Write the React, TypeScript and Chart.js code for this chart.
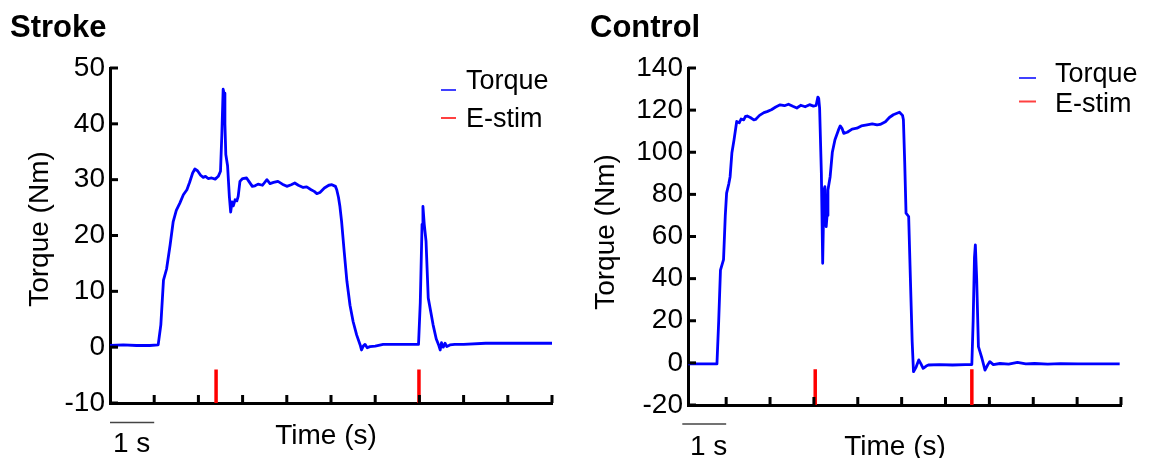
import React, { useEffect, useRef } from 'react';
import { Chart, registerables } from 'chart.js';

Chart.register(...registerables);

const FONT = '"Liberation Sans", Arial, Helvetica, sans-serif';

// ---------------- Data: Stroke ----------------
const strokeTime = [0.00,0.30,0.60,0.90,1.09,1.15,1.21,1.28,1.36,1.43,
  1.50,1.58,1.66,1.74,1.80,1.87,1.92,1.98,2.05,2.11,
  2.16,2.22,2.30,2.38,2.45,2.50,2.53,2.56,2.58,2.60,
  2.62,2.66,2.70,2.73,2.76,2.79,2.83,2.87,2.90,2.94,
  3.00,3.09,3.15,3.22,3.28,3.35,3.45,3.55,3.62,3.70,
  3.80,3.90,4.00,4.10,4.18,4.26,4.37,4.45,4.55,4.62,
  4.68,4.75,4.85,4.95,5.02,5.10,5.13,5.17,5.20,5.24,
  5.30,5.36,5.43,5.50,5.58,5.66,5.69,5.73,5.77,5.82,
  5.88,6.00,6.18,6.40,6.60,6.80,6.98,7.02,7.06,7.08,
  7.11,7.15,7.20,7.26,7.31,7.38,7.44,7.47,7.50,7.54,
  7.58,7.62,7.69,7.80,8.00,8.50,9.00,9.50,10.00];
const strokeTorque = [0.3,0.4,0.3,0.3,0.4,4.0,12.0,14.0,18.3,22.5,
  24.5,25.8,27.3,28.2,29.5,31.2,31.9,31.6,30.8,30.4,
  30.6,30.2,30.3,30.1,30.6,31.5,38.0,46.2,45.5,40.0,
  34.5,32.5,27.0,24.2,26.0,25.3,26.4,26.2,27.0,29.7,
  30.2,30.3,29.6,28.8,28.9,29.2,29.0,30.0,29.3,29.5,
  29.7,29.2,28.8,29.1,29.4,29.0,28.6,28.7,28.2,27.9,
  27.5,27.7,28.5,29.0,29.1,28.8,28.2,26.8,25.3,22.5,
  17.0,11.8,7.5,4.6,2.2,0.4,-0.5,0.2,0.5,-0.1,
  0.1,0.2,0.5,0.5,0.5,0.5,0.5,8.0,22.0,25.2,
  22.0,19.0,8.8,6.2,4.0,1.5,0.3,-0.5,0.8,0.0,
  0.7,0.1,0.4,0.5,0.5,0.7,0.7,0.7,0.7];
const strokeStimTimes = [2.40, 6.99];
const strokeStimRange = [-10, -4];
const strokeYTicks = [-10, 0, 10, 20, 30, 40, 50];
const strokeXRange = [0, 10];

// ---------------- Data: Control ----------------
const controlTime = [0.13,0.43,0.79,0.83,0.87,0.94,0.98,1.01,1.06,1.09,
  1.13,1.18,1.24,1.30,1.34,1.40,1.44,1.48,1.55,1.63,
  1.67,1.76,1.86,1.93,2.03,2.13,2.23,2.33,2.42,2.52,
  2.61,2.70,2.80,2.90,2.99,3.05,3.09,3.11,3.13,3.17,
  3.20,3.23,3.25,3.28,3.30,3.32,3.37,3.42,3.48,3.56,
  3.60,3.64,3.68,3.76,3.87,3.98,4.08,4.21,4.33,4.44,
  4.51,4.63,4.72,4.81,4.95,5.02,5.04,5.07,5.10,5.16,
  5.20,5.24,5.27,5.33,5.39,5.44,5.49,5.56,5.61,5.86,
  6.16,6.45,6.60,6.63,6.66,6.68,6.71,6.75,6.79,6.83,
  6.90,6.96,7.01,7.09,7.24,7.44,7.64,7.83,8.03,8.33,
  8.62,9.02,9.51,9.97];
const controlTorque = [-0.5,-0.5,-0.5,20,44,49,70,80.6,85,88.4,
  99.6,106,114.6,114,115.8,115.4,117,117.2,116.5,115.4,
  115.6,117.5,118.8,119.3,120.2,121.5,122.5,122.1,122.8,121.8,
  121.0,122.3,121.6,122.6,121.9,122.2,126.2,125.5,121,90,
  47.3,82.1,83.7,64.7,70,82.1,88.4,100,105.9,110.6,
  112.5,111.4,109,109.5,111,111.4,112.5,113,113.5,113,
  113.2,114.5,116.5,117.8,119,117.5,115.4,95,71.1,69.5,
  39.4,10,-4.2,-2,1.4,-0.5,-2.6,-1.5,-1,-0.8,
  -1,-0.8,-0.8,20,50,56,40,7.7,5,2.2,
  -3.4,-1,0.6,-0.8,-0.3,-0.6,0.2,-0.5,-0.3,-0.6,
  -0.4,-0.5,-0.5,-0.5];
const controlStimTimes = [3.03, 6.60];
const controlStimRange = [-20, -3];
const controlYTicks = [-20, 0, 20, 40, 60, 80, 100, 120, 140];
const controlXRange = [0.13, 10];

const xTickValues = [1, 2, 3, 4, 5, 6, 7, 8, 9, 10];
const seriesLabels = ['Torque', 'E-stim'];
const seriesColors = ['#0000ff', '#ff0000'];
const titles = ['Stroke', 'Control'];
const xAxisTitle = 'Time (s)';
const yAxisTitle = 'Torque (Nm)';
const scaleBarLabel = '1 s';

// ---------------- Layout (positions/styles only) ----------------
const panelLayouts = [
  {
    width: 580, areaLeft: 110, areaRight: 552, areaTop: 68, areaBottom: 403,
    titleX: 10, titleY: 37,
    yTitleX: 48, yTitleY: 229,
    xTitleX: 326, xTitleY: 444,
    barY: 422.5, barLabelX: 113, barLabelY: 452,
    legendDash: [441, 456], legendTextX: 466, legendDashY: [90, 118], legendTextY: [89, 126.5],
  },
  {
    width: 571, areaLeft: 108, areaRight: 541, areaTop: 68, areaBottom: 405,
    titleX: 10, titleY: 37,
    yTitleX: 34, yTitleY: 232,
    xTitleX: 315, xTitleY: 455,
    barY: 424, barLabelX: 110, barLabelY: 455,
    legendDash: [439, 456], legendTextX: 475, legendDashY: [78, 101.5], legendTextY: [82, 111.5],
  },
];
const HEIGHT = 458;

const decorPlugin = {
  id: 'decor',
  afterDraw(chart: any, _args: any, opts: any) {
    const L = opts.layout;
    const ctx = chart.ctx as CanvasRenderingContext2D;
    const { left, bottom } = chart.chartArea;
    const xs = chart.scales.x;
    const ys = chart.scales.y;
    ctx.save();
    // inward ticks
    ctx.strokeStyle = '#000';
    ctx.lineWidth = 3;
    ctx.lineCap = 'butt';
    ys.ticks.forEach((t: any) => {
      const py = ys.getPixelForValue(t.value);
      ctx.beginPath();
      ctx.moveTo(left, py);
      ctx.lineTo(left + 8, py);
      ctx.stroke();
    });
    opts.xTicks.forEach((v: number) => {
      const px = xs.getPixelForValue(v);
      ctx.beginPath();
      ctx.moveTo(px, bottom);
      ctx.lineTo(px, bottom - 8);
      ctx.stroke();
    });
    // scale bar
    ctx.strokeStyle = '#444';
    ctx.lineWidth = 1.5;
    ctx.beginPath();
    ctx.moveTo(xs.getPixelForValue(0), L.barY);
    ctx.lineTo(xs.getPixelForValue(1), L.barY);
    ctx.stroke();
    // texts
    ctx.fillStyle = '#000';
    ctx.textBaseline = 'alphabetic';
    ctx.font = `28px ${FONT}`;
    ctx.textAlign = 'left';
    ctx.fillText(opts.barLabel, L.barLabelX, L.barLabelY);
    ctx.textAlign = 'center';
    ctx.fillText(opts.xTitle, L.xTitleX, L.xTitleY);
    ctx.save();
    ctx.translate(L.yTitleX, L.yTitleY);
    ctx.rotate(-Math.PI / 2);
    ctx.fillText(opts.yTitle, 0, 0);
    ctx.restore();
    ctx.textAlign = 'left';
    ctx.font = `bold 31px ${FONT}`;
    ctx.fillText(opts.title, L.titleX, L.titleY);
    // legend
    ctx.font = `27px ${FONT}`;
    chart.data.datasets.forEach((ds: any, i: number) => {
      ctx.strokeStyle = ds.borderColor;
      ctx.globalAlpha = 0.75;
      ctx.lineWidth = 2;
      ctx.beginPath();
      ctx.moveTo(L.legendDash[0], L.legendDashY[i]);
      ctx.lineTo(L.legendDash[1], L.legendDashY[i]);
      ctx.stroke();
      ctx.globalAlpha = 1;
      ctx.fillStyle = '#000';
      ctx.fillText(ds.label, L.legendTextX, L.legendTextY[i]);
    });
    ctx.restore();
  },
};

type PanelProps = {
  idx: number;
  time: number[];
  torque: number[];
  stimTimes: number[];
  stimRange: number[];
  yTicks: number[];
  xRange: number[];
};

function Panel({ idx, time, torque, stimTimes, stimRange, yTicks, xRange }: PanelProps) {
  const ref = useRef<HTMLCanvasElement | null>(null);
  const L = panelLayouts[idx];
  useEffect(() => {
    if (!ref.current) return;
    const torquePts = time.map((t, i) => ({ x: t, y: torque[i] }));
    const stimPts: any[] = [];
    stimTimes.forEach((t) => {
      stimPts.push({ x: t, y: stimRange[0] });
      stimPts.push({ x: t, y: stimRange[1] });
      stimPts.push({ x: t, y: null });
    });
    const chart = new Chart(ref.current, {
      type: 'line',
      data: {
        datasets: [
          {
            label: seriesLabels[0],
            data: torquePts,
            borderColor: seriesColors[0],
            borderWidth: 2.8,
            borderJoinStyle: 'round',
            pointRadius: 0,
            tension: 0,
            fill: false,
          },
          {
            label: seriesLabels[1],
            data: stimPts,
            borderColor: seriesColors[1],
            borderWidth: 3.5,
            borderCapStyle: 'butt',
            pointRadius: 0,
            spanGaps: false,
            fill: false,
          },
        ],
      },
      options: {
        responsive: false,
        animation: false,
        devicePixelRatio: 1,
        layout: {
          padding: { top: L.areaTop, right: L.width - L.areaRight, bottom: 0, left: 0 },
        },
        plugins: {
          legend: { display: false },
          tooltip: { enabled: false },
          decor: {
            layout: L,
            xTicks: xTickValues,
            title: titles[idx],
            xTitle: xAxisTitle,
            yTitle: yAxisTitle,
            barLabel: scaleBarLabel,
          },
        } as any,
        scales: {
          x: {
            type: 'linear',
            min: xRange[0],
            max: xRange[1],
            grid: { display: false, drawTicks: false },
            border: { display: true, color: '#000', width: 3 },
            ticks: { display: false },
            afterFit: (s: any) => { s.height = HEIGHT - L.areaBottom; },
          },
          y: {
            type: 'linear',
            min: yTicks[0],
            max: yTicks[yTicks.length - 1],
            grid: { display: false, drawTicks: false },
            border: { display: true, color: '#000', width: 3 },
            ticks: {
              color: '#000',
              font: { family: FONT, size: 28 },
              padding: 5,
            },
            afterBuildTicks: (s: any) => { s.ticks = yTicks.map((v) => ({ value: v })); },
            afterFit: (s: any) => { s.width = L.areaLeft; },
          },
        },
      } as any,
      plugins: [decorPlugin],
    });
    return () => chart.destroy();
  }, []);
  return <canvas ref={ref} width={L.width} height={HEIGHT} style={{ display: 'block', width: L.width, height: HEIGHT }} />;
}

export default function App() {
  return (
    <div style={{ position: 'absolute', left: 0, top: 0, width: 1151, height: HEIGHT, display: 'flex', background: '#fff', overflow: 'hidden' }}>
      <Panel idx={0} time={strokeTime} torque={strokeTorque} stimTimes={strokeStimTimes} stimRange={strokeStimRange} yTicks={strokeYTicks} xRange={strokeXRange} />
      <Panel idx={1} time={controlTime} torque={controlTorque} stimTimes={controlStimTimes} stimRange={controlStimRange} yTicks={controlYTicks} xRange={controlXRange} />
    </div>
  );
}
